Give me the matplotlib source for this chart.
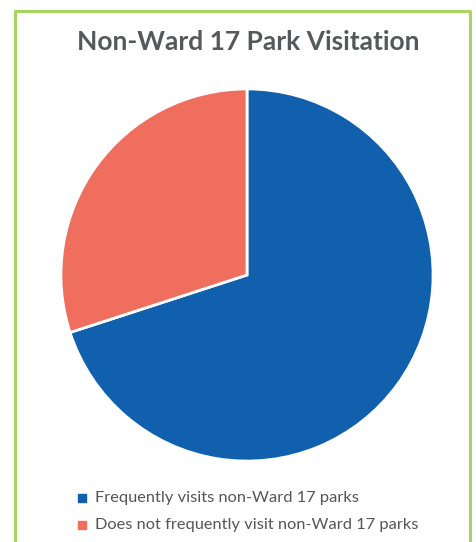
import matplotlib.pyplot as plt
from matplotlib.patches import Rectangle

labels = ['Frequently visits non-Ward 17 parks',
          'Does not frequently visit non-Ward 17 parks']
values = [70, 30]
colors = ['#1060ae', '#f06e5e']

W, H = 476, 542
fig = plt.figure(figsize=(W / 100, H / 100), dpi=100)
fig.patch.set_facecolor('white')

# green frame (open at the bottom)
fig.add_artist(plt.Line2D([15 / W, 15 / W, 470 / W, 470 / W],
                          [0, 1 - 11 / H, 1 - 11 / H, 0],
                          color='#a8d462', lw=2.2, transform=fig.transFigure))

fig.text(248 / W, 1 - 42 / H, 'Non-Ward 17 Park Visitation', ha='center', va='center',
         fontsize=19, fontweight='bold', color='#54595a', family='Lato')

cx, cy, r = 247, 275, 187
ax = fig.add_axes([(cx - r) / W, 1 - (cy + r) / H, 2 * r / W, 2 * r / H])
ax.pie(values, colors=colors, startangle=90, counterclock=False,
       wedgeprops=dict(edgecolor='white', linewidth=2))
ax.set_xlim(-1.005, 1.005)
ax.set_ylim(-1.005, 1.005)
ax.set_aspect('equal')
ax.axis('off')

for i, (lab, col) in enumerate(zip(labels, colors)):
    y = 1 - (498 + i * 27) / H
    fig.add_artist(Rectangle((78 / W, y - 4 / H), 8 / W, 8 / H, color=col,
                             transform=fig.transFigure))
    fig.text(95 / W, y, lab, ha='left', va='center', fontsize=11.8,
             color='#555555', family='Lato')

fig.savefig('out.png', dpi=100)
